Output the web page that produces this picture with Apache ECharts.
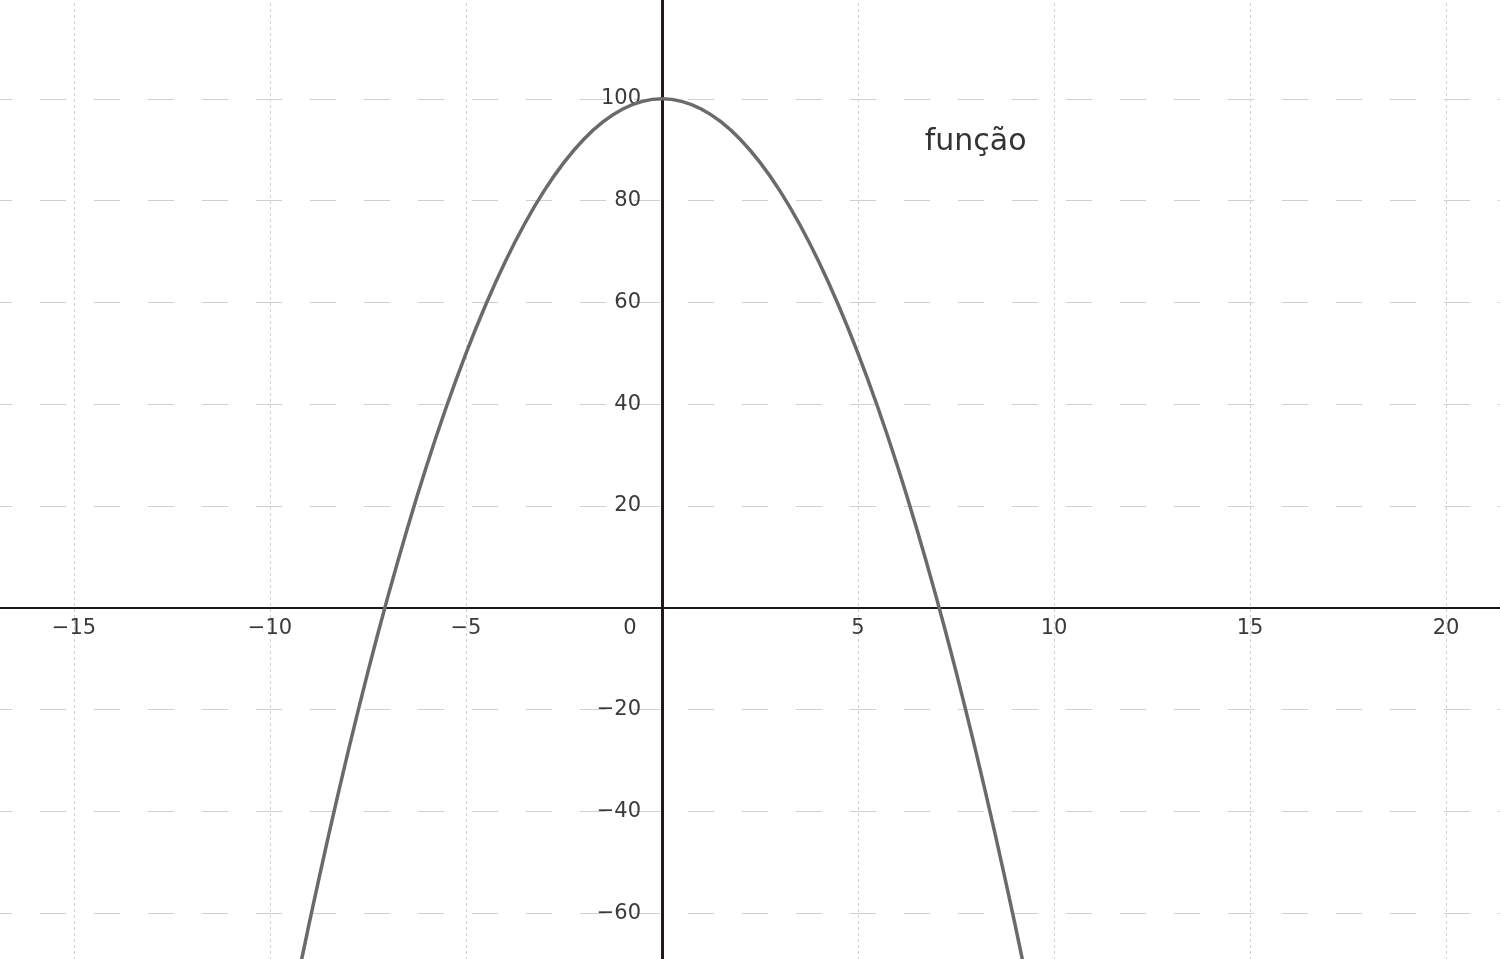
<!DOCTYPE html>
<html>
<head>
<meta charset="utf-8">
<script src="https://cdn.jsdelivr.net/npm/echarts@6/dist/echarts.min.js"></script>
<style>
html,body{margin:0;padding:0;background:#fff;}
#chart{width:1500px;height:959px;}
</style>
</head>
<body>
<div id="chart"></div>
<script>
// Points (x, y)
const xValues = [-9.5,-9,-8.5,-8,-7.5,-7,-6.5,-6,-5.5,-5,-4.5,-4,-3.5,-3,-2.5,-2,-1.5,-1,-0.5,0,
                 0.5,1,1.5,2,2.5,3,3.5,4,4.5,5,5.5,6,6.5,7,7.5,8,8.5,9,9.5];
const yValues = [-80.5,-62,-44.5,-28,-12.5,2,15.5,28,39.5,50,59.5,68,75.5,82,87.5,92,95.5,98,99.5,100,
                 99.5,98,95.5,92,87.5,82,75.5,68,59.5,50,39.5,28,15.5,2,-12.5,-28,-44.5,-62,-80.5];
const seriesName = 'função';
const xTickStep = 5;
const yTickStep = 20;

const points = xValues.map((x, i) => [x, yValues[i]]);
const fmt = v => (v < 0 ? '\u2212' : '') + Math.abs(v);

// layout (pixels)
const W = 1500, H = 959;
const gLeft = -122, gRight = -142, gTop = -3, gBottom = -56;
const xMin = -20, xMax = 25, yMin = -80, yMax = 120;
const gW = W - gLeft - gRight, gH = H - gTop - gBottom;
const zeroXpx = gW * (0 - xMin) / (xMax - xMin);          // distance from grid left to x=0
const zeroYpx = gH * (0 - yMin) / (yMax - yMin);          // distance from grid bottom to y=0

const chart = echarts.init(document.getElementById('chart'));
chart.setOption({
  backgroundColor: '#ffffff',
  animation: false,
  grid: { left: gLeft, right: gRight, top: gTop, bottom: gBottom, containLabel: false, outerBoundsMode: 'none' },
  xAxis: {
    type: 'value', min: xMin, max: xMax, interval: xTickStep,
    position: 'bottom', offset: -zeroYpx,
    axisLine: { onZero: false, lineStyle: { color: '#1a1a1a', width: 2 } },
    axisTick: { show: false },
    axisLabel: {
      margin: 10, fontFamily: 'DejaVu Sans', fontSize: 21, color: '#3a3a3a',
      showMinLabel: false, showMaxLabel: false,
      formatter: v => v === 0 ? '{z|0}' : fmt(v),
      rich: { z: { fontFamily: 'DejaVu Sans', fontSize: 21, color: '#3a3a3a', padding: [0, 64, 0, 0] } }
    },
    splitLine: { show: true, lineStyle: { color: '#d2d2d2', width: 1, type: [3, 3] } }
  },
  yAxis: {
    type: 'value', min: yMin, max: yMax, interval: yTickStep,
    position: 'left', offset: -zeroXpx,
    axisLine: { onZero: false, lineStyle: { color: '#2a1416', width: 3 } },
    axisTick: { show: false },
    axisLabel: {
      margin: 21, fontFamily: 'DejaVu Sans', fontSize: 21, color: '#3a3a3a',
      showMinLabel: false, showMaxLabel: false,
      formatter: v => v === 0 ? '' : fmt(v)
    },
    splitLine: { show: true, lineStyle: { color: '#d0d0d0', width: 1, type: [26, 28] } }
  },
  series: [{
    name: seriesName,
    type: 'line',
    data: points,
    smooth: 0.3,
    showSymbol: false,
    lineStyle: { color: '#6a6a6a', width: 3.5 },
    z: 3,
    markPoint: {
      symbol: 'circle', symbolSize: 0,
      label: { show: true, position: 'inside', formatter: seriesName,
               fontFamily: 'DejaVu Sans', fontSize: 30, color: '#333333' },
      data: [{ coord: [8.0, 91.5] }]
    }
  }]
});
</script>
</body>
</html>
